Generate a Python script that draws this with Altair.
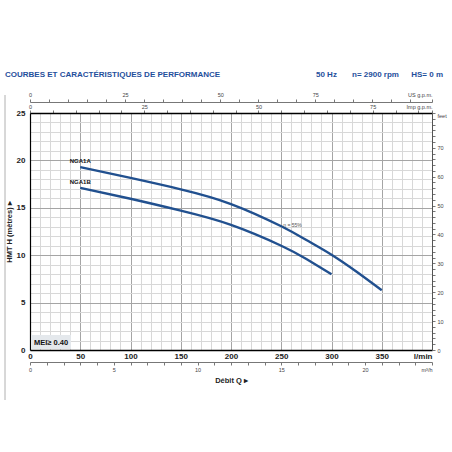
import altair as alt
import pandas as pd

# ---- data ----
q_a = [50, 100, 150, 200, 250, 275, 300, 325, 350]
h_a = [19.3, 18.15, 16.95, 15.4, 13.05, 11.6, 10.05, 8.25, 6.3]
q_b = [50, 100, 150, 200, 250, 275, 300]
h_b = [17.1, 15.95, 14.7, 13.2, 11.0, 9.6, 8.0]
models = ["NGA1A", "NGA1B"]

x_major = list(range(0, 401, 50))
x_minor = list(range(0, 401, 10))
y_major = list(range(0, 26, 5))
y_minor = list(range(0, 26, 1))
Q_MAX = 400
H_MAX = 25
US_GAL = 3.78541
IMP_GAL = 4.54609
M3H = 16.6667
FT = 0.3048

us_max = Q_MAX / US_GAL
imp_max = Q_MAX / IMP_GAL
m3_max = Q_MAX / M3H
ft_max = H_MAX / FT

us_ticks = list(range(0, 105, 5)) + [us_max]
imp_ticks = list(range(0, 88, 5)) + [imp_max]
m3_ticks = list(range(0, 24, 1)) + [m3_max]
ft_ticks = list(range(0, 82, 2)) + [ft_max]

BLUE = "#21508f"
TITLE_BLUE = "#1f4f9c"
FONT = "Liberation Sans"

rows = []
for q, h in zip(q_a, h_a):
    rows.append({"model": models[0], "q": q, "h": h})
for q, h in zip(q_b, h_b):
    rows.append({"model": models[1], "q": q, "h": h})
df = pd.DataFrame(rows)

labels = pd.DataFrame({"model": models, "q": [q_a[0], q_b[0]], "h": [h_a[0], h_b[0]]})
eta = pd.DataFrame({"q": [252], "h": [13.1], "t": ["η = 55%"]})
one = pd.DataFrame({"a": [0]})

xscale = alt.Scale(domain=[0, Q_MAX], nice=False, zero=True)
yscale = alt.Scale(domain=[0, H_MAX], nice=False, zero=True)

# minor grid
grid_minor = alt.Chart(one).mark_point(opacity=0).encode(
    x=alt.X("g:Q", scale=xscale,
            axis=alt.Axis(orient="bottom", values=x_minor, labels=False, ticks=False, domain=False,
                          grid=True, gridColor="#d8d8d8", gridWidth=1, title=None)),
    y=alt.Y("g:Q", scale=yscale,
            axis=alt.Axis(orient="left", values=y_minor, labels=False, ticks=False, domain=False,
                          grid=True, gridColor="#d8d8d8", gridWidth=1, title=None)),
).transform_calculate(g="0")

x_axis = alt.Axis(
    orient="bottom", values=x_major,
    labelExpr="datum.value == 400 ? 'l/min' : datum.label",
    labelAlign={"condition": {"test": "datum.value == 400", "value": "right"}, "value": "center"},
    ticks=False, grid=True, gridColor="#a5a5a5", gridWidth=1,
    domainColor="black", domainWidth=1.5,
    labelFont=FONT, labelFontWeight="bold", labelFontSize=8, labelColor="#222",
    labelPadding=2, labelOverlap=False, labelBound=False, labelFlush=False,
    title=None,
)
y_axis = alt.Axis(
    orient="left", values=y_major,
    ticks=False, grid=True, gridColor="#a5a5a5", gridWidth=1,
    domainColor="black", domainWidth=1.2,
    labelFont=FONT, labelFontWeight="bold", labelFontSize=8, labelColor="#222",
    labelPadding=5, labelOverlap=False, labelBound=False, labelFlush=False,
    title="HMT H (mètres) ▸", titleFont=FONT, titleFontWeight="bold", titleFontSize=7.5,
    titleColor="#222", titlePadding=3,
)

lines = alt.Chart(df).mark_line(color=BLUE, strokeWidth=2.4, interpolate="natural").encode(
    x=alt.X("q:Q", scale=xscale, axis=x_axis),
    y=alt.Y("h:Q", scale=yscale, axis=y_axis),
    detail="model:N",
)
lab = alt.Chart(labels).mark_text(
    font=FONT, fontWeight="bold", fontSize=6, color="#111", baseline="bottom", dy=-3
).encode(x=alt.X("q:Q", scale=xscale, axis=None), y=alt.Y("h:Q", scale=yscale, axis=None),
         text="model:N")
eta_t = alt.Chart(eta).mark_text(
    font=FONT, fontSize=5, color="#555", align="left", baseline="middle", dy=-1
).encode(x=alt.X("q:Q", scale=xscale, axis=None), y=alt.Y("h:Q", scale=yscale, axis=None),
         text="t:N")

mei_box = alt.Chart(one).mark_rect(color="#e4e8ec").encode(
    x=alt.value(1), x2=alt.value(41), y=alt.value(222), y2=alt.value(236)
)
mei_txt = alt.Chart(one).mark_text(
    text="MEI≥ 0.40", font=FONT, fontWeight="bold", fontSize=7.5, color="#111", align="left"
).encode(x=alt.value(4), y=alt.value(229.5))

def head(txt, x, align="left"):
    return alt.Chart(one).mark_text(
        text=txt, font=FONT, fontWeight="bold", fontSize=8, color=TITLE_BLUE,
        align=align, baseline="middle"
    ).encode(x=alt.value(x), y=alt.value(-38))

title_l = head("COURBES ET CARACTÉRISTIQUES DE PERFORMANCE", -25)
hz = head("50 Hz", 286)
rpm = head("n= 2900 rpm", 322)
hs = head("HS= 0 m", 413, "right")

side = alt.Chart(one).mark_rule(color="#b0b0b0", strokeWidth=1).encode(
    x=alt.value(-25), y=alt.value(-18), y2=alt.value(287)
)

small = dict(labelFont=FONT, labelFontSize=5.5, labelColor="#444", labelOverlap=False,
             labelBound=False, labelFlush=False, grid=False, title=None)

us = alt.Chart(one).mark_point(opacity=0).encode(
    x=alt.X("u:Q", scale=alt.Scale(domain=[0, us_max], nice=False),
            axis=alt.Axis(orient="top", offset=11, values=us_ticks,
                          labelExpr="datum.value > 100 ? 'US g.p.m.' : (datum.value % 25 == 0 && datum.value < 100 ? datum.label : '')",
                          labelAlign={"condition": {"test": "datum.value > 100", "value": "right"}, "value": "center"},
                          domainColor="#777", tickColor="#777", tickSize=3, labelPadding=2, **small))
).transform_calculate(u="0")

imp = alt.Chart(one).mark_point(opacity=0).encode(
    x=alt.X("i:Q", scale=alt.Scale(domain=[0, imp_max], nice=False),
            axis=alt.Axis(orient="top", offset=0, values=imp_ticks,
                          labelExpr="datum.value > 86 ? 'Imp g.p.m.' : (datum.value % 25 == 0 ? datum.label : '')",
                          labelAlign={"condition": {"test": "datum.value > 86", "value": "right"}, "value": "center"},
                          domainColor="black", domainWidth=1.6, tickColor="#777", tickSize=3,
                          labelPadding=1, **small))
).transform_calculate(i="0")

m3 = alt.Chart(one).mark_point(opacity=0).encode(
    x=alt.X("m:Q", scale=alt.Scale(domain=[0, m3_max], nice=False),
            axis=alt.Axis(orient="bottom", offset=12, values=m3_ticks,
                          labelExpr="datum.value > 23.5 ? 'm³/h' : (datum.value % 5 == 0 ? datum.label : '')",
                          labelAlign={"condition": {"test": "datum.value > 23.5", "value": "right"}, "value": "center"},
                          domainColor="#777", tickColor="#777", tickSize=3, labelPadding=2,
                          labelFont=FONT, labelFontSize=5.5, labelColor="#444", labelOverlap=False,
                          labelBound=False, labelFlush=False, grid=False,
                          title="Débit Q ▸", titleFont=FONT, titleFontWeight="bold", titleFontSize=7.5,
                          titleColor="#222", titlePadding=4))
).transform_calculate(m="0")

ft = alt.Chart(one).mark_point(opacity=0).encode(
    y=alt.Y("f:Q", scale=alt.Scale(domain=[0, ft_max], nice=False),
            axis=alt.Axis(orient="right", values=ft_ticks,
                          labelExpr="datum.value > 81 ? 'feet' : (datum.value % 10 == 0 && datum.value < 80 ? datum.label : '')",
                          labelBaseline={"condition": {"test": "datum.value > 81", "value": "top"}, "value": "middle"},
                          domainColor="#555", tickColor="#777", tickSize=3, labelPadding=2, **small))
).transform_calculate(f="0")

chart = alt.layer(
    grid_minor, lines, lab, eta_t, mei_box, mei_txt, side, title_l, hz, rpm, hs, us, imp, m3, ft
).resolve_scale(
    x="independent", y="independent"
).properties(
    width=402, height=237,
    autosize=alt.AutoSizeParams(type="none"),
    padding={"left": 30, "top": 113, "right": 20, "bottom": 102},
    background="white",
).configure_view(stroke=None)

chart.save("out.html", embed_options={"renderer": "svg", "actions": False})
